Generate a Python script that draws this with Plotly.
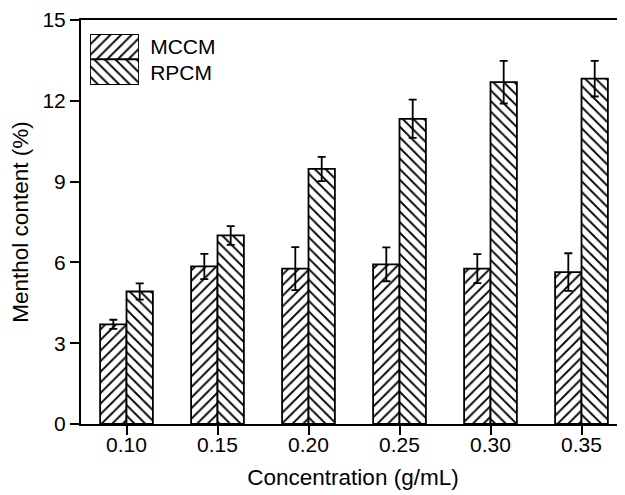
import plotly.graph_objects as go

concentrations = ["0.10", "0.15", "0.20", "0.25", "0.30", "0.35"]
mccm_values = [3.70, 5.85, 5.77, 5.93, 5.77, 5.64]
mccm_errors = [0.17, 0.47, 0.80, 0.63, 0.54, 0.70]
rpcm_values = [4.92, 7.00, 9.47, 11.33, 12.69, 12.82]
rpcm_errors = [0.30, 0.35, 0.45, 0.71, 0.79, 0.66]
series_names = ["MCCM", "RPCM"]
y_ticks = [0, 3, 6, 9, 12, 15]

FONT = "Liberation Sans, Arial, sans-serif"
OFF = 8  # default body margin of the html page
W, H = 625 - OFF, 495 - OFF
# plot area in page pixels
P_LEFT, P_TOP, P_BOTTOM = 81, 20, 424.5
ML = P_LEFT - OFF
MT = P_TOP - OFF
MB = H - (P_BOTTOM - OFF)
MR = 0
PW = W - ML - MR
PH = H - MT - MB
X_RANGE = [-0.5, 5.478]

def pattern(shape):
    return dict(shape=shape, size=7.5, solidity=0.25, fgcolor="black",
                bgcolor="white", fillmode="replace")

fig = go.Figure()
fig.add_trace(go.Bar(
    x=concentrations, y=mccm_values, name=series_names[0],
    marker=dict(color="white", line=dict(color="black", width=1.8),
                pattern=pattern("/")),
    error_y=dict(type="data", array=mccm_errors, color="black",
                 thickness=1.8, width=4),
    showlegend=False))
fig.add_trace(go.Bar(
    x=concentrations, y=rpcm_values, name=series_names[1],
    marker=dict(color="white", line=dict(color="black", width=1.8),
                pattern=pattern("\\")),
    error_y=dict(type="data", array=rpcm_errors, color="black",
                 thickness=1.8, width=4),
    showlegend=False))

# invisible carrier so the label axis (x3) gets drawn
fig.add_trace(go.Scatter(
    x=concentrations, y=mccm_values, xaxis="x3", yaxis="y",
    mode="markers", marker=dict(opacity=0, size=1),
    showlegend=False, hoverinfo="skip"))

# legend patches drawn as an inset bar chart
for name, shp in zip(series_names, ["/", "\\"]):
    fig.add_trace(go.Bar(
        x=[1], y=[name], orientation="h", xaxis="x2", yaxis="y2",
        width=1, offset=-0.5,
        marker=dict(color="white", line=dict(color="black", width=1.8),
                    pattern=pattern(shp)),
        showlegend=False, hoverinfo="skip"))

def px_x(p):
    return (p - P_LEFT) / PW

def px_y(p):
    return (P_BOTTOM - p) / PH

fig.update_layout(
    width=W, height=H,
    margin=dict(l=ML, r=MR, t=MT, b=MB, autoexpand=False),
    paper_bgcolor="white", plot_bgcolor="white",
    font=dict(family=FONT, size=21, color="black"),
    barmode="group", bargap=0.42, bargroupgap=0,
    xaxis=dict(
        type="category", range=X_RANGE,
        showline=True, linecolor="black", linewidth=2, mirror=True,
        ticks="outside", ticklen=9, tickwidth=2, tickcolor="black",
        showticklabels=False,
        showgrid=False, zeroline=False,
    ),
    # tick labels sit closer to the axis than plotly's default offset
    xaxis3=dict(
        type="category", overlaying="x", anchor="y", side="bottom",
        range=X_RANGE,
        ticks="outside", ticklen=2, tickcolor="rgba(0,0,0,0)",
        showline=False, showgrid=False, zeroline=False,
        tickfont=dict(size=21),
        title=dict(text="Concentration (g/mL)", font=dict(size=22.5), standoff=14),
    ),
    yaxis=dict(
        range=[0, 15], tickvals=y_ticks,
        showline=True, linecolor="black", linewidth=2,
        ticks="outside", ticklen=9, tickwidth=2, tickcolor="black",
        showgrid=False, zeroline=False,
        tickfont=dict(size=21),
        title=dict(text="Menthol content (%)", font=dict(size=22.5), standoff=8),
    ),
    xaxis2=dict(domain=[px_x(90), px_x(139)], anchor="y2", range=[0, 1],
                visible=False, fixedrange=True),
    yaxis2=dict(domain=[px_y(85), px_y(34)], anchor="x2", range=[-0.5, 1.5],
                type="category", categoryorder="array",
                categoryarray=[series_names[1], series_names[0]],
                side="right", showline=False, showgrid=False, zeroline=False,
                ticks="outside", ticklen=6, tickcolor="rgba(0,0,0,0)",
                tickfont=dict(size=21), fixedrange=True),
)

fig.write_html("out.html")
